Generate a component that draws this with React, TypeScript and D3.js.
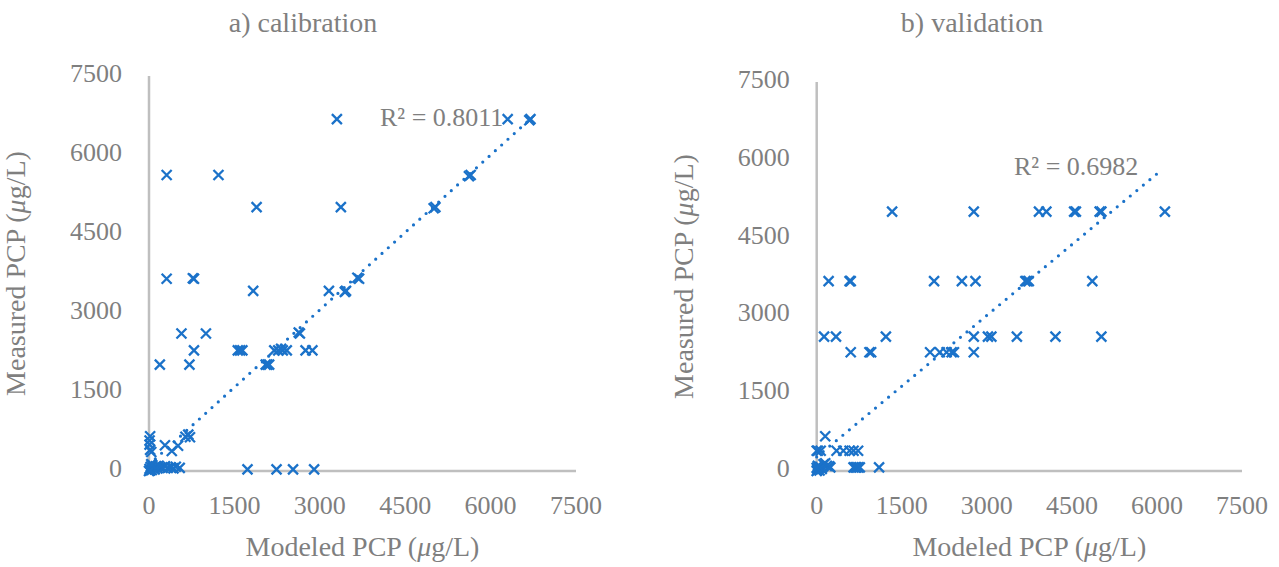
import React from "react";
import * as d3 from "d3";

// calibration (modeled, measured) in ug/L
const calX = [
  3300, 6300, 6700, 6680, 310, 1220, 5650, 5620, 1890, 3370, 5030, 5000,
  310, 790, 770, 3690, 3660, 1830, 3160, 3460, 3440, 570, 1000, 2650, 2630,
  790, 1560, 1600, 1640, 2200, 2270, 2320, 2350, 2420, 2750, 2870,
  190, 710, 2050, 2080, 2110,
  20, 10, 10, 20, 40, 280, 400, 510, 640, 690, 720,
  1730, 2240, 2530, 2900,
  0, 10, 30, 50, 60, 80, 100, 120, 150, 170, 200, 240, 280, 330, 380, 430, 470, 540, 20, 40,
];
const calY = [
  6680, 6680, 6680, 6660, 5620, 5620, 5620, 5600, 5010, 5010, 5010, 4990,
  3650, 3650, 3660, 3650, 3670, 3420, 3420, 3420, 3400, 2610, 2610, 2610, 2630,
  2290, 2290, 2290, 2290, 2290, 2290, 2320, 2290, 2290, 2290, 2290,
  2020, 2020, 2020, 2020, 2020,
  660, 580, 500, 400, 360, 490, 380, 480, 650, 690, 640,
  30, 30, 30, 30,
  0, 40, 80, 20, 110, 60, 30, 90, 50, 100, 70, 60, 90, 60, 70, 50, 80, 60, 10, 130,
];

// validation
const valX = [
  1330, 2770, 3920, 4050, 4540, 4570, 4990, 5020, 6140,
  210, 580, 600, 2070, 2560, 2800, 3680, 3710, 3740, 4860,
  130, 340, 1220, 2770, 3020, 3080, 3530, 4210, 5020,
  600, 930, 960, 2000, 2170, 2290, 2380, 2420, 2770,
  150,
  0, 70, 350, 470, 580, 650, 730, 20,
  650, 680, 700, 730, 760, 1100,
  0, 10, 30, 50, 60, 90, 120, 150, 180, 220, 240, 20, 0,
];
const valY = [
  5000, 5000, 5000, 5000, 5000, 5000, 5000, 5000, 5000,
  3660, 3660, 3660, 3660, 3660, 3660, 3660, 3660, 3660, 3660,
  2590, 2590, 2590, 2590, 2590, 2590, 2590, 2590, 2590,
  2290, 2290, 2290, 2290, 2290, 2290, 2290, 2290, 2290,
  670,
  390, 390, 390, 390, 390, 390, 390, 390,
  70, 70, 70, 70, 70, 70,
  0, 20, 50, 10, 80, 40, 130, 150, 100, 90, 70, 100, 60,
];

const ticks = [0, 1500, 3000, 4500, 6000, 7500];
const titles = ["a) calibration", "b) validation"];
const r2Labels = ["R² = 0.8011", "R² = 0.6982"];
// linear trendline: [intercept, slope, xEnd]
const calTrend = [120, 0.98, 6700];
const valTrend = [270, 0.91, 6100];

const blue = "#1b72c9";
const grey = "#7f7f7f";
const font = "'Liberation Serif', 'Times New Roman', serif";

const Panel = (props: any) => {
  const x = d3.scaleLinear().domain([0, 7500]).range([props.left, props.right]);
  const y = d3.scaleLinear().domain([0, 7500]).range([props.bottom, props.top]);
  const [b, m, xe] = props.trend;
  const line = d3
    .line<number>()
    .x((d) => x(d))
    .y((d) => y(b + m * d));
  const cx = (props.left + props.right) / 2;
  const cy = (props.top + props.bottom) / 2;
  const s = 5;

  return (
    <g>
      <text x={props.titleX} y={26} textAnchor="middle" dominantBaseline="middle" fontSize={28} fill={grey}>
        {props.title}
      </text>
      <line x1={x(0)} x2={x(0)} y1={y(7500)} y2={y(0)} stroke="#bfbfbf" strokeWidth={2.5} />
      <line x1={x(0)} x2={x(7500)} y1={y(0)} y2={y(0)} stroke="#bfbfbf" strokeWidth={2.5} />
      {ticks.map((t) => (
        <text key={"y" + t} x={x(0) - 27} y={y(t)} textAnchor="end" dominantBaseline="middle" fontSize={26} fill={grey}>
          {t}
        </text>
      ))}
      {ticks.map((t) => (
        <text key={"x" + t} x={x(t)} y={508} textAnchor="middle" dominantBaseline="middle" fontSize={26} fill={grey}>
          {t}
        </text>
      ))}
      <text x={cx} y={550} textAnchor="middle" dominantBaseline="middle" fontSize={28} fill={grey}>
        Modeled PCP (<tspan fontStyle="italic">μ</tspan>g/L)
      </text>
      <text
        transform={`translate(${props.left - 130},${cy}) rotate(-90)`}
        textAnchor="middle"
        dominantBaseline="middle"
        fontSize={28}
        fill={grey}
      >
        Measured PCP (<tspan fontStyle="italic">μ</tspan>g/L)
      </text>
      {props.xs.map((v: number, i: number) => {
        const px = x(v);
        const py = y(props.ys[i]);
        return (
          <path
            key={i}
            d={`M${px - s},${py - s}L${px + s},${py + s}M${px - s},${py + s}L${px + s},${py - s}`}
            stroke={blue}
            strokeWidth={2.3}
          />
        );
      })}
      <path
        d={line([0, xe]) as string}
        fill="none"
        stroke={blue}
        strokeWidth={3.2}
        strokeLinecap="round"
        strokeDasharray="0 8.5"
      />
      <text x={props.r2x} y={props.r2y} fontSize={26} fill={grey}>
        {props.r2}
      </text>
    </g>
  );
};

export default function App() {
  return (
    <svg
      width={1279}
      height={567}
      style={{ position: "absolute", left: 0, top: 0, background: "#fff", fontFamily: font }}
    >
      <Panel
        left={149}
        right={576}
        top={76}
        bottom={471}
        xs={calX}
        ys={calY}
        trend={calTrend}
        title={titles[0]}
        titleX={303}
        r2={r2Labels[0]}
        r2x={380}
        r2y={126}
      />
      <Panel
        left={816.7}
        right={1242}
        top={82}
        bottom={471}
        xs={valX}
        ys={valY}
        trend={valTrend}
        title={titles[1]}
        titleX={972}
        r2={r2Labels[1]}
        r2x={1014}
        r2y={175}
      />
    </svg>
  );
}
